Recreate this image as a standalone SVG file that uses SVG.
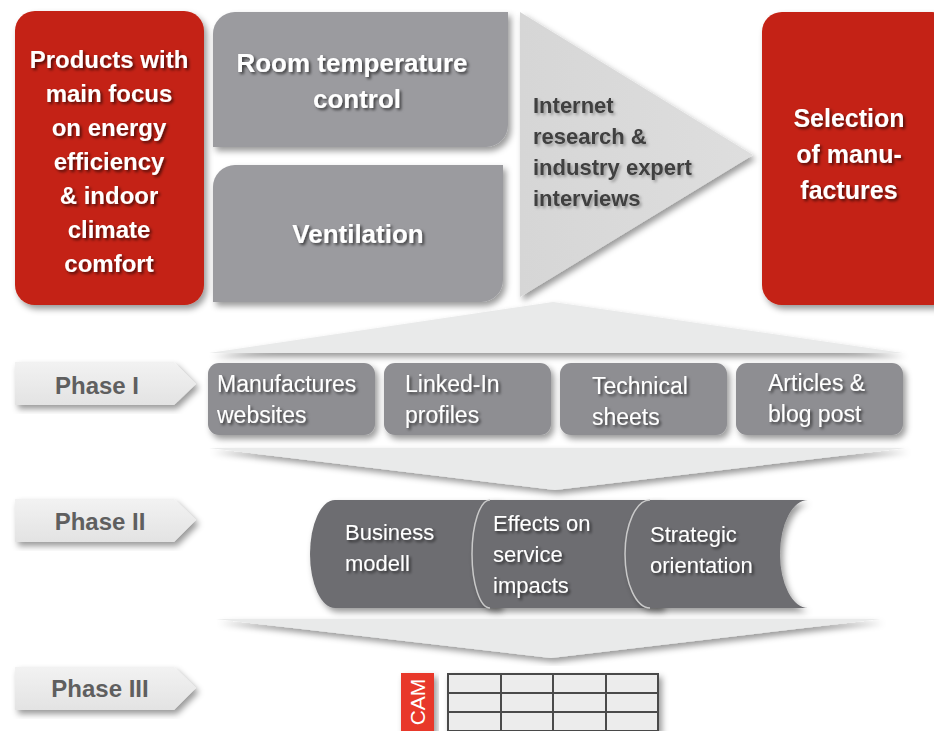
<svg xmlns="http://www.w3.org/2000/svg" width="934" height="731" viewBox="0 0 934 731">
<defs>
<style>
.red{fill:#c42112}
.g1{fill:#9b9b9f}
.g2{fill:#8e8e92}
.g3{fill:#6d6d71}
.chev{fill:#e9eaea}
.lbl{fill:url(#lg)}
.wt{font-family:"Liberation Sans",Arial,sans-serif;fill:#fff}
.b{font-weight:bold}
.dk{font-family:"Liberation Sans",Arial,sans-serif;fill:#3f3f3f;font-weight:bold;font-size:22px}
.ph{font-family:"Liberation Sans",Arial,sans-serif;fill:#5f5f5f;font-weight:bold;font-size:24px;text-anchor:middle}
.m{text-anchor:middle}
</style>
<linearGradient id="lg" x1="0" y1="0" x2="0" y2="1">
<stop offset="0" stop-color="#f2f2f2"/><stop offset="1" stop-color="#e3e3e3"/>
</linearGradient>
<linearGradient id="tg" x1="0" y1="0" x2="1" y2="0">
<stop offset="0" stop-color="#d6d6d6"/><stop offset="1" stop-color="#dedede"/>
</linearGradient>
<filter id="sh" x="-10%" y="-10%" width="125%" height="130%">
<feDropShadow dx="3" dy="4" stdDeviation="3" flood-color="#000" flood-opacity="0.4"/>
</filter>
<filter id="ts" x="-10%" y="-20%" width="130%" height="150%">
<feDropShadow dx="2" dy="2" stdDeviation="1.5" flood-color="#000" flood-opacity="0.6"/>
</filter>
<filter id="ts2" x="-10%" y="-20%" width="130%" height="150%">
<feDropShadow dx="2" dy="2" stdDeviation="1.5" flood-color="#000" flood-opacity="0.3"/>
</filter>
</defs>
<rect width="934" height="731" fill="#fff"/>

<g id="connectors">
<polygon class="chev" points="209,353 553,302 903,353" filter="url(#sh)"/>
<polygon class="chev" points="209,448 906,448 555,490" filter="url(#sh)"/>
<polygon class="chev" points="216,619 881,619 551,658" filter="url(#sh)"/>
</g>

<g id="products">
<rect class="red" x="15" y="11" width="189" height="294" rx="20" filter="url(#sh)"/>
<g class="wt b m" font-size="24" filter="url(#ts)">
<text x="109" y="68">Products with</text>
<text x="109" y="102">main focus</text>
<text x="109" y="136">on energy</text>
<text x="109" y="170">efficiency</text>
<text x="109" y="204">&amp; indoor</text>
<text x="109" y="238">climate</text>
<text x="109" y="272">comfort</text>
</g>
</g>

<g id="room-temperature">
<path class="g1" d="M235,12 H508 V125 A22,22 0 0 1 486,147 H213 V34 A22,22 0 0 1 235,12 Z" filter="url(#sh)"/>
<g class="wt b m" font-size="26" filter="url(#ts)">
<text x="352" y="72">Room temperature</text>
<text x="357" y="108">control</text>
</g>
</g>

<g id="ventilation">
<path class="g1" d="M235,165 H503 V280 A22,22 0 0 1 481,302 H213 V187 A22,22 0 0 1 235,165 Z" filter="url(#sh)"/>
<text class="wt b m" font-size="26" x="358" y="243" filter="url(#ts)">Ventilation</text>
</g>

<g id="research">
<polygon points="520,12 753,155 520,297" fill="url(#tg)" filter="url(#sh)"/>
<g class="dk" filter="url(#ts2)">
<text x="533" y="113">Internet</text>
<text x="533" y="144">research &amp;</text>
<text x="533" y="175">industry expert</text>
<text x="533" y="206">interviews</text>
</g>
</g>

<g id="selection">
<rect class="red" x="762" y="12" width="190" height="293" rx="20" filter="url(#sh)"/>
<g class="wt b m" font-size="25" filter="url(#ts)">
<text x="849" y="127">Selection</text>
<text x="849" y="163">of manu-</text>
<text x="849" y="199">factures</text>
</g>
</g>

<g id="phase1-label">
<polygon class="lbl" points="15,362 174,362 196,384 174,405 15,405" filter="url(#sh)"/>
<text class="ph" x="97" y="394">Phase I</text>
</g>
<g id="phase2-label">
<polygon class="lbl" points="15,499 174,499 196,520 174,542 15,542" filter="url(#sh)"/>
<text class="ph" x="100" y="530">Phase II</text>
</g>
<g id="phase3-label">
<polygon class="lbl" points="15,667 174,667 196,688 174,710 15,710" filter="url(#sh)"/>
<text class="ph" x="100" y="697">Phase III</text>
</g>

<g id="manufactures-websites">
<rect class="g2" x="208" y="363" width="167" height="72" rx="11" filter="url(#sh)"/>
<g class="wt" font-size="23" filter="url(#ts)"><text x="217" y="392">Manufactures</text><text x="217" y="423">websites</text></g>
</g>
<g id="linkedin-profiles">
<rect class="g2" x="384" y="363" width="167" height="72" rx="11" filter="url(#sh)"/>
<g class="wt" font-size="23" filter="url(#ts)"><text x="405" y="392">Linked-In</text><text x="405" y="423">profiles</text></g>
</g>
<g id="technical-sheets">
<rect class="g2" x="560" y="363" width="167" height="72" rx="11" filter="url(#sh)"/>
<g class="wt" font-size="23" filter="url(#ts)"><text x="592" y="394">Technical</text><text x="592" y="425">sheets</text></g>
</g>
<g id="articles-blog">
<rect class="g2" x="736" y="363" width="167" height="72" rx="11" filter="url(#sh)"/>
<g class="wt" font-size="23" filter="url(#ts)"><text x="768" y="391">Articles &amp;</text><text x="768" y="422">blog post</text></g>
</g>

<g id="business-modell">
<path class="g3" d="M335,500 H500 V608 H335 A25,54 0 0 1 335,500 Z" filter="url(#sh)"/>
<g class="wt" font-size="22" filter="url(#ts)"><text x="345" y="540">Business</text><text x="345" y="571">modell</text></g>
</g>
<g id="effects-service">
<path class="g3" d="M490,500 H662 V608 H490 A18,54 0 0 1 490,500 Z" filter="url(#sh)"/>
<path d="M490,608 A18,54 0 0 1 490,500" fill="none" stroke="#c9c9c9" stroke-width="1.5"/>
<g class="wt" font-size="22" filter="url(#ts)"><text x="493" y="531">Effects on</text><text x="493" y="562">service</text><text x="493" y="593">impacts</text></g>
</g>
<g id="strategic-orientation">
<path class="g3" d="M650,500 H808 A28,54 0 0 0 808,608 H650 A25,54 0 0 1 650,500 Z" filter="url(#sh)"/>
<path d="M650,608 A25,54 0 0 1 650,500" fill="none" stroke="#c9c9c9" stroke-width="1.5"/>
<g class="wt" font-size="22" filter="url(#ts)"><text x="650" y="542">Strategic</text><text x="650" y="573">orientation</text></g>
</g>

<g id="cam-table">
<rect x="401" y="673" width="33" height="60" fill="#e8382b" filter="url(#sh)"/>
<text class="wt m" font-size="21" transform="translate(425,702) rotate(-90)">CAM</text>
<g filter="url(#sh)">
<rect x="448" y="674" width="210" height="57" fill="#ececec" stroke="#4a4a4a" stroke-width="2"/>
</g>
<g stroke="#4a4a4a" stroke-width="2" fill="none">
<line x1="448" y1="693" x2="658" y2="693"/>
<line x1="448" y1="712" x2="658" y2="712"/>
<line x1="501" y1="674" x2="501" y2="731"/>
<line x1="553" y1="674" x2="553" y2="731"/>
<line x1="606" y1="674" x2="606" y2="731"/>
</g>
</g>
</svg>
